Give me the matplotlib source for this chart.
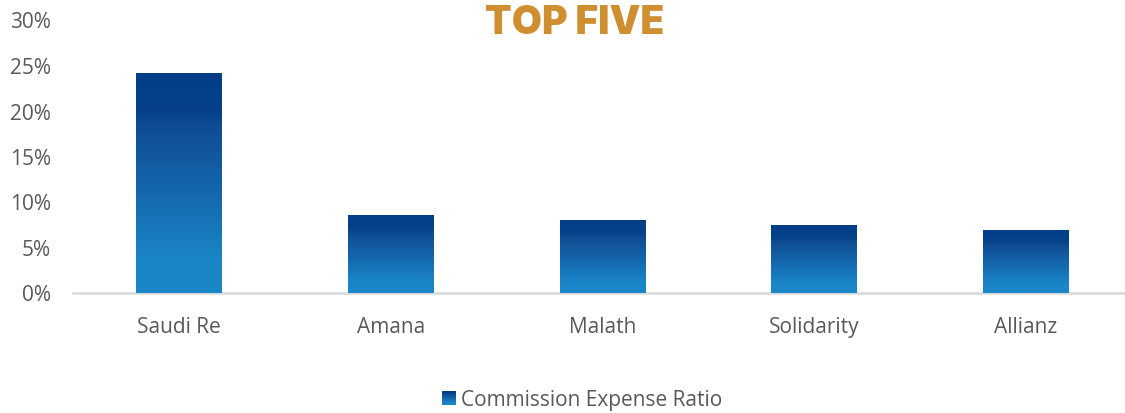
import matplotlib
matplotlib.use("Agg")
import matplotlib.pyplot as plt
import numpy as np
from matplotlib.colors import LinearSegmentedColormap
from matplotlib.ticker import FuncFormatter, MultipleLocator
from matplotlib.patches import Rectangle
from matplotlib.legend_handler import HandlerBase
from matplotlib.image import BboxImage
from matplotlib.transforms import Bbox, TransformedBbox

categories = ["Saudi Re", "Amana", "Malath", "Solidarity", "Allianz"]
values = [24.1, 8.5, 8.0, 7.4, 6.9]
series_name = "Commission Expense Ratio"
title = "TOP FIVE"

W, H = 1125, 414
fig = plt.figure(figsize=(W / 100, H / 100), dpi=100)
ax = fig.add_axes([73 / W, (414 - 293.5) / H, (1132 - 73) / W, 273 / H])

cmap = LinearSegmentedColormap.from_list(
    "grad",
    [(0.0, "#1a87c9"), (0.14, "#1a86c8"), (0.45, "#1568ae"),
     (0.76, "#0f4c92"), (0.82, "#06418a"), (1.0, "#023e88")])

x = np.arange(len(categories))
bars = ax.bar(x, values, width=0.406, color="none", edgecolor="none", zorder=2)
grad = np.linspace(0, 1, 256).reshape(-1, 1)
for b in bars:
    x0, y0 = b.get_x(), b.get_y()
    w, h = b.get_width(), b.get_height()
    im = ax.imshow(grad, cmap=cmap, origin="lower", aspect="auto",
                   extent=[x0, x0 + w, y0, y0 + h], zorder=2,
                   interpolation="bilinear")
    im.set_clip_path(b)

ax.set_xlim(-0.5, len(categories) - 0.5)
ax.set_ylim(0, 30)
ax.yaxis.set_major_locator(MultipleLocator(5))
ax.yaxis.set_major_formatter(FuncFormatter(lambda v, p: f"{v:.0f}%"))
ax.set_xticks(x)
ax.set_xticklabels(categories)

for s in ["top", "right", "left"]:
    ax.spines[s].set_visible(False)
ax.spines["bottom"].set_color("#d9d9d9")
ax.spines["bottom"].set_linewidth(1.8)
ax.spines["bottom"].set_zorder(1)
ax.tick_params(axis="both", length=0, colors="#595959", labelsize=15)
ax.tick_params(axis="y", pad=16)
ax.tick_params(axis="x", pad=17)
for lab in ax.get_xticklabels() + ax.get_yticklabels():
    lab.set_fontfamily("Open Sans")

fig.text(575 / W, 1 - 23 / H, title, ha="center", va="center",
         fontsize=28, fontweight=900, family="Inter", color="#cf8f31")


class GradHandler(HandlerBase):
    def create_artists(self, legend, orig_handle, xdescent, ydescent,
                       width, height, fontsize, trans):
        size = 9.5
        x0 = xdescent + width - size
        y0 = -ydescent + (height - size) / 2 - 0.5
        bb = TransformedBbox(Bbox.from_bounds(x0, y0, size, size), trans)
        img = BboxImage(bb, cmap=cmap, origin="lower")
        img.set_data(grad)
        return [img]


handle = Rectangle((0, 0), 1, 1)
leg = fig.legend([handle], [series_name], handler_map={Rectangle: GradHandler()},
                 loc="center", bbox_to_anchor=(581 / W, 1 - 401 / H),
                 frameon=False, handlelength=0.75, handletextpad=0.25,
                 prop={"family": "Open Sans", "size": 15})
for t in leg.get_texts():
    t.set_color("#595959")

fig.savefig("out.png", dpi=100)
